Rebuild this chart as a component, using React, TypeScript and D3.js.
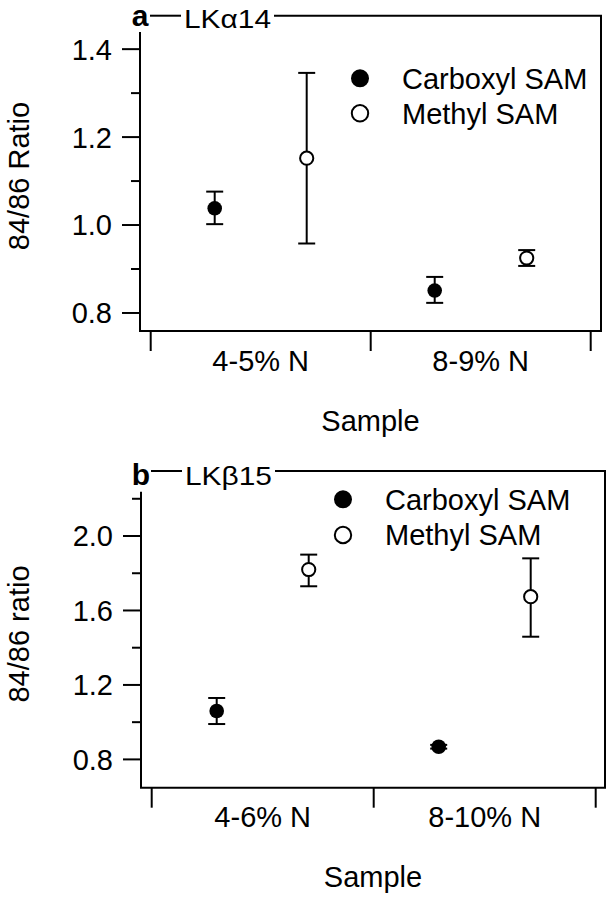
import * as d3 from 'd3'

// Two stacked panels: 84/86 ratio per sample, carboxyl vs methyl SAM
const SERIES = ['Carboxyl SAM', 'Methyl SAM']

const A_CATEGORIES = ['4-5% N', '8-9% N']
const A_CARBOXYL = [1.038, 0.851]
const A_CARBOXYL_LO = [1.002, 0.823]
const A_CARBOXYL_HI = [1.076, 0.882]
const A_METHYL = [1.152, 0.925]
const A_METHYL_LO = [0.958, 0.907]
const A_METHYL_HI = [1.346, 0.943]
const A_MAJOR = [0.8, 1.0, 1.2, 1.4]
const A_MINOR = [0.9, 1.1, 1.3]

const B_CATEGORIES = ['4-6% N', '8-10% N']
const B_CARBOXYL = [1.06, 0.868]
const B_CARBOXYL_LO = [0.99, 0.858]
const B_CARBOXYL_HI = [1.13, 0.878]
const B_METHYL = [1.82, 1.674]
const B_METHYL_LO = [1.73, 1.459]
const B_METHYL_HI = [1.9, 1.88]
const B_MAJOR = [0.8, 1.2, 1.6, 2.0]
const B_MINOR = [1.0, 1.4, 1.8, 2.2]

const FONT = '"Liberation Sans", Arial, Helvetica, sans-serif'
const FS = 29

type Layout = {
  left: number; right: number; top: number; bottom: number; frameTop: number
  xRange: [number, number]; yDomain: [number, number]
  letter: string; letterY: number; title: string; titleX: number; titleY: number; titleW: number
  ylabel: string; ylabelY: number
  legendX: number; legendY: [number, number]
  tickLabelY: number; xlabelY: number
}

function Panel({ L, cats, values, major, minor }: {
  L: Layout; cats: string[]; values: number[][][]; major: number[]; minor: number[]
}) {
  const x = d3.scaleBand<string>().domain(cats).range(L.xRange).padding(0)
  const off = d3.scalePoint<string>().domain(SERIES).range([-46, 46])
  const y = d3.scaleLinear().domain(L.yDomain).range([L.bottom, L.top])
  const bounds = [L.xRange[0], ...cats.map((c) => (x(c) as number) + x.bandwidth())]
  const cx = (c: string) => (x(c) as number) + x.bandwidth() / 2

  return (
    <g>
      {/* frame: left axis, bottom axis, right side and a top rule broken by the title */}
      <g stroke="#000" strokeWidth={2} fill="none">
        <line x1={L.left} y1={L.top} x2={L.left} y2={L.bottom} />
        <line x1={L.left - 1} y1={L.bottom} x2={L.right + 1} y2={L.bottom} />
        <line x1={L.right} y1={L.frameTop} x2={L.right} y2={L.bottom} />
        <line x1={L.left + 10} y1={L.frameTop} x2={L.titleX - 3} y2={L.frameTop} />
        <line x1={L.titleX + L.titleW + 3} y1={L.frameTop} x2={L.right + 1} y2={L.frameTop} />
        {major.map((t) => (
          <line key={'M' + t} x1={L.left - 18} x2={L.left} y1={y(t)} y2={y(t)} />
        ))}
        {minor.map((t) => (
          <line key={'m' + t} x1={L.left - 9} x2={L.left} y1={y(t)} y2={y(t)} />
        ))}
        {bounds.map((b, i) => (
          <line key={'x' + i} x1={b} x2={b} y1={L.bottom} y2={L.bottom + 20} />
        ))}
      </g>

      <g fontFamily={FONT} fontSize={FS} fill="#000">
        {major.map((t) => (
          <text key={t} x={L.left - 28} y={y(t)} dy="0.36em" textAnchor="end">{t.toFixed(1)}</text>
        ))}
        {cats.map((c) => (
          <text key={c} x={cx(c)} y={L.tickLabelY} textAnchor="middle">{c}</text>
        ))}
        <text x={(L.left + L.right) / 2} y={L.xlabelY} textAnchor="middle">Sample</text>
        <text transform={`translate(29,${L.ylabelY}) rotate(-90)`} textAnchor="middle">{L.ylabel}</text>
        <text x={L.left} y={L.letterY} textAnchor="middle" fontWeight="bold" fontSize={30}>{L.letter}</text>
        <text x={L.titleX} y={L.titleY} fontSize={26} textLength={L.titleW} lengthAdjust="spacingAndGlyphs">{L.title}</text>
      </g>

      {/* error bars then markers */}
      {SERIES.map((s, si) => (
        <g key={s}>
          {cats.map((c, ci) => {
            const [v, lo, hi] = values[si].map((arr) => arr[ci])
            const px = cx(c) + (off(s) as number)
            return (
              <g key={c}>
                <g stroke="#000" strokeWidth={2}>
                  <line x1={px} x2={px} y1={y(lo)} y2={y(hi)} />
                  <line x1={px - 8.5} x2={px + 8.5} y1={y(lo)} y2={y(lo)} />
                  <line x1={px - 8.5} x2={px + 8.5} y1={y(hi)} y2={y(hi)} />
                </g>
                <circle cx={px} cy={y(v)} r={si === 0 ? 7.3 : 6.6}
                  fill={si === 0 ? '#000' : '#fff'} stroke="#000" strokeWidth={si === 0 ? 0 : 2} />
              </g>
            )
          })}
        </g>
      ))}

      {/* legend */}
      <g fontFamily={FONT} fontSize={FS}>
        {SERIES.map((s, si) => (
          <g key={s}>
            <circle cx={L.legendX} cy={L.legendY[si]} r={si === 0 ? 9 : 8.2}
              fill={si === 0 ? '#000' : '#fff'} stroke="#000" strokeWidth={si === 0 ? 0 : 2} />
            <text x={L.legendX + 42} y={L.legendY[si]} dy="0.36em">{s}</text>
          </g>
        ))}
      </g>
    </g>
  )
}

const LAYOUT_A: Layout = {
  left: 140, right: 601, top: 32, bottom: 331, frameTop: 15.7,
  xRange: [150.7, 590.7], yDomain: [0.759, 1.439],
  letter: 'a', letterY: 25.7, title: 'LKα14', titleX: 184, titleY: 28.3, titleW: 87,
  ylabel: '84/86 Ratio', ylabelY: 176,
  legendX: 360, legendY: [78.3, 113.3],
  tickLabelY: 370.7, xlabelY: 431,
}

const LAYOUT_B: Layout = {
  left: 141, right: 605, top: 491.7, bottom: 787.7, frameTop: 471,
  xRange: [151.7, 595.7], yDomain: [0.648, 2.238],
  letter: 'b', letterY: 485, title: 'LKβ15', titleX: 185, titleY: 485, titleW: 87,
  ylabel: '84/86 ratio', ylabelY: 634,
  legendX: 343, legendY: [499.3, 535],
  tickLabelY: 826.7, xlabelY: 887,
}

export default function App() {
  return (
    <svg width={614} height={898} style={{ position: 'absolute', left: 0, top: 0, background: '#fff' }}>
      <rect width={614} height={898} fill="#fff" />
      <Panel L={LAYOUT_A} cats={A_CATEGORIES}
        values={[[A_CARBOXYL, A_CARBOXYL_LO, A_CARBOXYL_HI], [A_METHYL, A_METHYL_LO, A_METHYL_HI]]}
        major={A_MAJOR} minor={A_MINOR} />
      <Panel L={LAYOUT_B} cats={B_CATEGORIES}
        values={[[B_CARBOXYL, B_CARBOXYL_LO, B_CARBOXYL_HI], [B_METHYL, B_METHYL_LO, B_METHYL_HI]]}
        major={B_MAJOR} minor={B_MINOR} />
    </svg>
  )
}
